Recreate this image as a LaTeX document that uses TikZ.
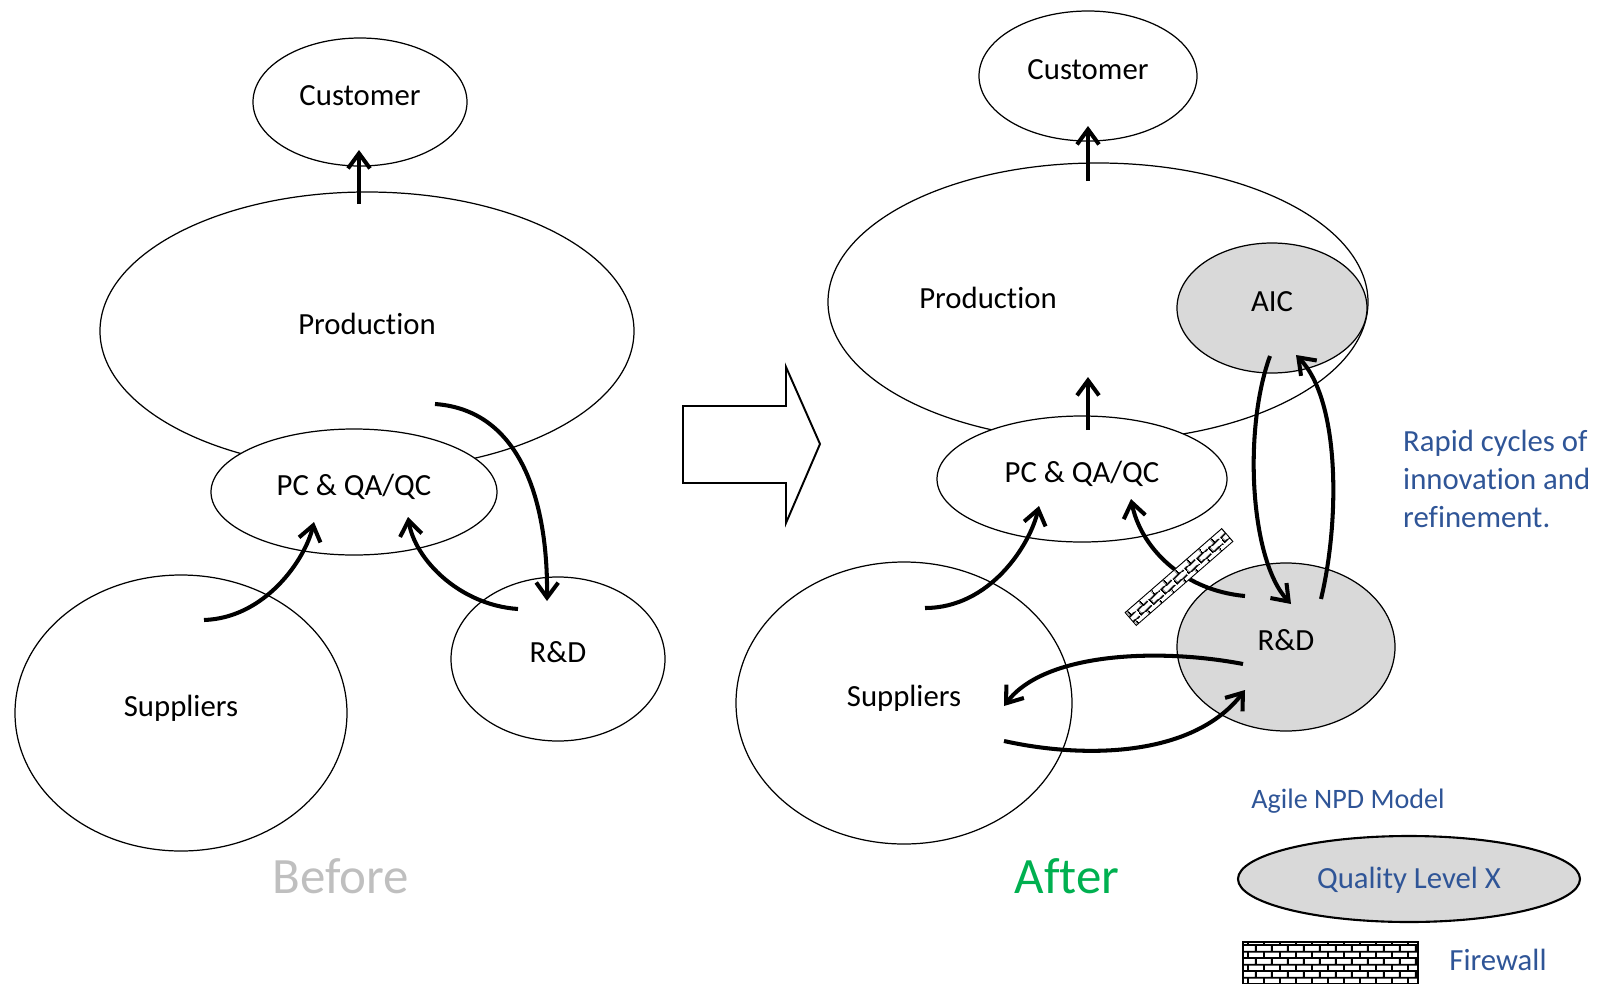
\documentclass[tikz,border=0pt]{standalone}
\usepackage{fontspec}
\setmainfont{Carlito}[Ligatures={NoCommon,NoContextual}]
\usetikzlibrary{arrows.meta, shapes.geometric, patterns.meta, calc}

\definecolor{shade}{HTML}{D9D9D9}
\definecolor{navy}{HTML}{2F5597}
\definecolor{faded}{HTML}{BFBFBF}
\definecolor{fresh}{HTML}{00B050}

\tikzdeclarepattern{
  name=wallbricks,
  parameters={\pgfkeysvalueof{/pgf/pattern keys/brick angle}},
  bottom left={(0pt,0pt)},
  top right={(9.1pt,7.6pt)},
  tile size={(9.1pt,7.6pt)},
  tile transformation={rotate=\pgfkeysvalueof{/pgf/pattern keys/brick angle}},
  defaults={brick angle/.initial=0},
  code={
    \draw[line width=1.1pt] (0pt,0.55pt) -- (9.1pt,0.55pt)
      (0pt,4.35pt) -- (9.1pt,4.35pt)
      (0.55pt,0pt) -- (0.55pt,4.35pt)
      (5.1pt,4.35pt) -- (5.1pt,7.6pt);
  }
}

\begin{document}
\begin{tikzpicture}[x=0.2mm, y=-0.2mm,
    blob/.style={draw, ellipse, fill=white, line width=0.7pt, inner sep=0pt,
      text height=11pt, text depth=7pt, font=\fontsize{17.5}{21}\selectfont},
    hot/.style={blob, fill=shade},
    flow/.style={-{Straight Barb[length=3mm, width=4.4mm]}, line width=2.3pt},
    legend/.style={text=navy, font=\fontsize{17.5}{21.6}\selectfont},
    firewall/.style={draw, rectangle, inner sep=0pt, preaction={fill=white}}]
  \useasboundingbox (0,0) rectangle (1598,984);

  % before
  \node (prod1) [blob, minimum width=106.8mm, minimum height=55.6mm] at (367,331) {Production};
  \node (cust1) [blob, minimum width=42.8mm, minimum height=25.6mm] at (360,102) {Customer};
  \node (pc1) [blob, minimum width=57.2mm, minimum height=25.2mm] at (354,492) {PC \& QA/QC};
  \node (sup1) [blob, minimum width=66.4mm, minimum height=55.2mm] at (181,713) {Suppliers};
  \node (rd1) [blob, minimum width=42.8mm, minimum height=32.8mm] at (558,659) {R\&D};

  \draw[flow] ($(prod1.center)+(-8,-127)$) -- ($(cust1.center)+(-1,48)$);
  \draw[flow] ($(prod1.center)+(68,73)$) .. controls +(85,6) and +(1,-101) .. ($(rd1.center)+(-11,-58)$);
  \draw[flow] ($(sup1.center)+(23,-93)$) .. controls +(61,-2) and +(-9,38) .. ($(pc1.center)+(-40,30)$);
  \draw[flow] ($(rd1.center)+(-40,-50)$) .. controls +(-58,-4) and +(7,43) .. ($(pc1.center)+(54,25)$);

  \node (before) [text=faded, font=\fontsize{29}{34}\selectfont] at (341,876) {Before};

  % shift
  \draw[line width=1.1pt] (683,406) -- (786,406) -- (786,367) -- (820,444)
    -- (786,523) -- (786,483) -- (683,483) -- cycle;

  % after
  \node (prod2) [blob, minimum width=108mm, minimum height=55.6mm] at (1098,302) {};
  \node (prod2txt) [font=\fontsize{17.5}{21}\selectfont] at (988,298) {Production};
  \node (aic) [hot, minimum width=38mm, minimum height=26mm] at (1272,308) {AIC};
  \node (cust2) [blob, minimum width=43.6mm, minimum height=26mm] at (1088,76) {Customer};
  \node (pc2) [blob, minimum width=58mm, minimum height=25.2mm] at (1082,479) {PC \& QA/QC};
  \node (sup2) [blob, minimum width=67.2mm, minimum height=56.4mm] at (904,703) {Suppliers};
  \node (rd2) [hot, minimum width=43.6mm, minimum height=33.6mm] at (1286,647) {R\&D};

  \draw[flow] ($(prod2.center)+(-10,-121)$) -- ($(cust2.center)+(0,50)$);
  \draw[flow] ($(pc2.center)+(6,-49)$) -- ($(prod2.center)+(-10,75)$);
  \draw[flow] ($(sup2.center)+(21,-95)$) .. controls +(65,0) and +(-9,39) .. ($(pc2.center)+(-43,27)$);
  \draw[flow] ($(rd2.center)+(-41,-51)$) .. controls +(-65,-6) and +(9,46) .. ($(pc2.center)+(49,20)$);
  \draw[flow] ($(aic.center)+(-2,48)$) .. controls +(-27,74) and +(-41,-44) .. ($(rd2.center)+(5,-43)$);
  \draw[flow] ($(rd2.center)+(35,-48)$) .. controls +(19,-79) and +(44,45) .. ($(aic.center)+(24,47)$);
  \draw[flow] ($(rd2.center)+(-43,17)$) .. controls +(-83,-16) and +(41,-54) .. ($(sup2.center)+(100,3)$);
  \draw[flow] ($(sup2.center)+(100,38)$) .. controls +(86,19) and +(-50,65) .. ($(rd2.center)+(-41,43)$);

  \node (wall) [firewall, line width=0.5pt, minimum width=25.6mm, minimum height=3.4mm,
    rotate=41, pattern={wallbricks[brick angle=41]}] at (1179,577) {};

  \node (after) [text=fresh, font=\fontsize{29}{34}\selectfont] at (1067,876) {After};
  \node (rapid) [legend, anchor=west, align=left] at (1397,479) {Rapid cycles of\\innovation and\\refinement.};

  % legend
  \node (model) [legend, font=\fontsize{16}{19}\selectfont] at (1348,801) {Agile NPD Model};
  \node (qual) [blob, fill=shade, line width=1.2pt, text=navy, text depth=0pt,
    minimum width=68.4mm, minimum height=17.2mm] at (1409,879) {Quality Level X};
  \node (walleg) [firewall, line width=1pt, minimum width=35mm, minimum height=9.6mm,
    pattern={wallbricks[brick angle=0]}] at (1330.5,966) {};
  \node (wallname) [legend] at (1498,960) {Firewall};
\end{tikzpicture}
\end{document}
